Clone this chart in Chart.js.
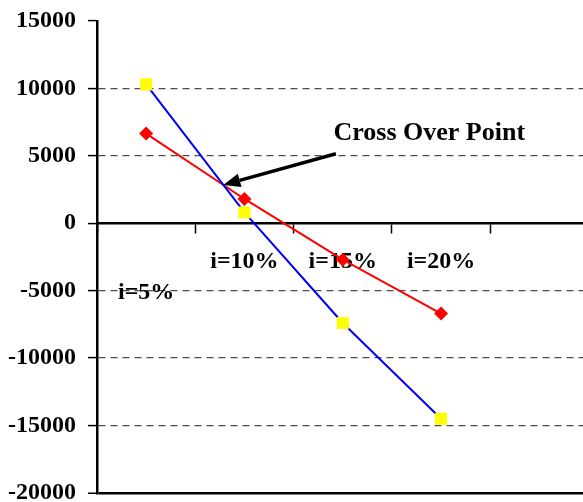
<!DOCTYPE html>
<html>
<head>
<meta charset="utf-8">
<script src="https://cdn.jsdelivr.net/npm/chart.js@4/dist/chart.umd.min.js"></script>
<style>
  html, body { margin: 0; padding: 0; background: #fff; }
  #outer { width: 583px; height: 502px; overflow: hidden; }
  #wrap { width: 597px; height: 505px; position: relative; }
</style>
</head>
<body>
<div id="outer"><div id="wrap"><canvas id="chart"></canvas></div></div>
<script>
// categories (last slot is an empty one, as in the original sheet)
const categories = [['', 'i=5%'], 'i=10%', 'i=15%', 'i=20%', ''];
const seriesA = [10300, 800, -7400, -14500, null];   // yellow squares, blue line
const seriesB = [6650, 1800, -2700, -6700, null];    // red diamonds, red line
const yTicks = [-20000, -15000, -10000, -5000, 0, 5000, 10000, 15000];

const serif = '"Liberation Serif", "Times New Roman", serif';

// arrow pointing at where the two lines cross, tail and caption in data units
const arrowTail = { x: 1.93, y: 5150 };
const captionAt = { x: 2.88, y: 6650 };

const crossOver = {
    id: 'crossOver',
    afterDatasetsDraw(chart) {
        const xs = chart.scales.x, ys = chart.scales.y, ctx = chart.ctx;
        // intersection of the first segment of each series
        const dA = seriesA[1] - seriesA[0], dB = seriesB[1] - seriesB[0];
        const t = (seriesB[0] - seriesA[0]) / (dA - dB);
        const tipX = xs.getPixelForValue(t), tipY = ys.getPixelForValue(seriesA[0] + dA * t);
        const tailX = xs.getPixelForValue(arrowTail.x), tailY = ys.getPixelForValue(arrowTail.y);
        const ang = Math.atan2(tipY - tailY, tipX - tailX);
        const headLen = 17, headW = 7;
        const baseX = tipX - Math.cos(ang) * headLen, baseY = tipY - Math.sin(ang) * headLen;

        ctx.save();
        ctx.strokeStyle = '#000';
        ctx.fillStyle = '#000';
        ctx.lineWidth = 3.5;
        ctx.beginPath();
        ctx.moveTo(tailX, tailY);
        ctx.lineTo(baseX, baseY);
        ctx.stroke();
        ctx.beginPath();
        ctx.moveTo(tipX, tipY);
        ctx.lineTo(baseX + Math.sin(ang) * headW, baseY - Math.cos(ang) * headW);
        ctx.lineTo(baseX - Math.sin(ang) * headW, baseY + Math.cos(ang) * headW);
        ctx.closePath();
        ctx.fill();

        ctx.font = 'bold 26px ' + serif;
        ctx.textAlign = 'center';
        ctx.textBaseline = 'middle';
        ctx.fillText('Cross Over Point', xs.getPixelForValue(captionAt.x), ys.getPixelForValue(captionAt.y));
        ctx.restore();
    }
};

new Chart(document.getElementById('chart'), {
    type: 'line',
    data: {
        labels: categories,
        datasets: [{
            data: seriesA,
            borderColor: '#0000ff',
            borderWidth: 2,
            backgroundColor: '#ffff00',
            pointStyle: 'rect',
            pointRadius: 8.5,
            pointBorderWidth: 0,
            pointBorderColor: '#ffff00',
            tension: 0,
        }, {
            data: seriesB,
            borderColor: '#ff0000',
            borderWidth: 2,
            backgroundColor: '#ff0000',
            pointStyle: 'rectRot',
            pointRadius: 7,
            pointBorderWidth: 0,
            pointBorderColor: '#ff0000',
            tension: 0,
        }],
    },
    options: {
        responsive: true,
        maintainAspectRatio: false,
        animation: false,
        layout: { padding: { top: 21, bottom: 0, left: 0, right: 0 } },
        plugins: {
            legend: { display: false },
            tooltip: { enabled: false },
        },
        scales: {
            x: {
                position: { y: 0 },
                offset: true,
                grid: {
                    offset: true,
                    drawOnChartArea: false,
                    tickLength: 9,
                    tickColor: '#000',
                    tickWidth: 1.5,
                },
                border: { color: '#000', width: 2.5 },
                ticks: {
                    color: '#000',
                    padding: 14,
                    maxRotation: 0,
                    autoSkip: false,
                    font: { family: serif, size: 24, weight: 'bold', lineHeight: 1.3 },
                },
            },
            y: {
                min: yTicks[0],
                max: yTicks[yTicks.length - 1],
                afterFit(scale) { scale.width = 97; },
                afterBuildTicks(scale) { scale.ticks = yTicks.map((v) => ({ value: v })); },
                grid: {
                    color: (c) => {
                        const v = c.tick && c.tick.value;
                        if (v === yTicks[0]) return '#000';
                        if (v === 0 || v === yTicks[yTicks.length - 1]) return 'rgba(0,0,0,0)';
                        return '#4d4d4d';
                    },
                    lineWidth: (c) => (c.tick && c.tick.value === yTicks[0] ? 2.5 : 1.2),
                    tickLength: 9,
                    tickColor: '#000',
                    tickWidth: 1.5,
                },
                border: {
                    color: '#000',
                    width: 2.5,
                    dash: (c) => (c.tick && c.tick.value === yTicks[0] ? [] : [7, 5]),
                },
                ticks: {
                    color: '#000',
                    padding: 12,
                    callback: (v) => String(v),
                    // tiny line height so the end labels do not shrink the plot vertically
                    font: { family: serif, size: 24, weight: 'bold', lineHeight: 0.01 },
                },
            },
        },
    },
    plugins: [crossOver],
});
</script>
</body>
</html>
